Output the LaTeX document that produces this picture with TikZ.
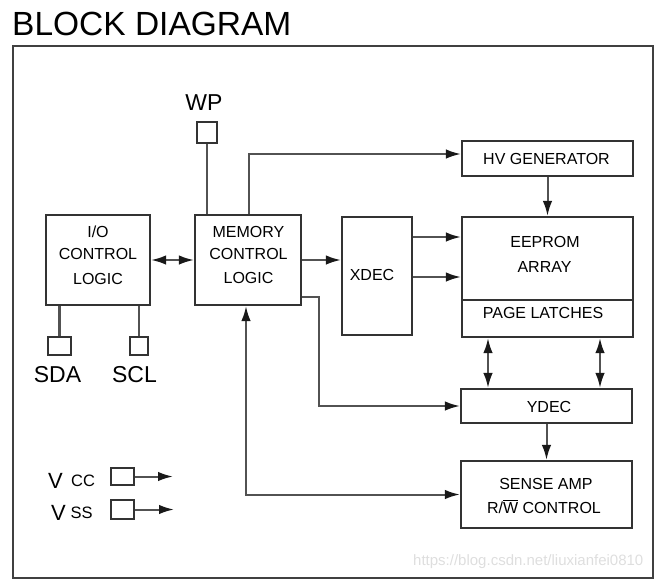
\documentclass[tikz,border=0pt]{standalone}
\usepackage{fontspec}
\setmainfont{Liberation Sans}
\usetikzlibrary{arrows.meta}
\newcommand\blkfont{\fontsize{16}{19}\selectfont}
\newcommand\pinfont{\fontsize{23}{26}\selectfont}
\begin{document}
\begin{tikzpicture}[x=1pt,y=-1pt,
  blk/.style={draw=black!80,line width=2.2pt,rectangle,inner sep=0pt},
  lbl/.style={anchor=base,inner sep=0pt,font=\blkfont},
  conn/.style={draw=black!68,line width=2pt},
  tip/.tip={Latex[length=15pt,width=9.5pt,color=black!90,fill=black!90]},
  arr/.style={conn,-tip},
  barr/.style={conn,tip-tip},
  frame/.style={draw=black!75,line width=2pt}]
\useasboundingbox (0,0) rectangle (666,582);
\draw[frame] (13,46) rectangle (653,578);
\node[anchor=base west,inner sep=0pt,font=\fontsize{33.5}{38}\selectfont] (title) at (12,35) {BLOCK DIAGRAM};

% blocks
\node[blk,minimum width=104pt,minimum height=90pt] (io) at (98,260) {};
\node[blk,minimum width=106pt,minimum height=90pt] (mem) at (248,260) {};
\node[blk,minimum width=70pt,minimum height=118pt] (xdec) at (377,276) {};
\node[blk,minimum width=171pt,minimum height=35pt] (hv) at (547.5,158.5) {};
\node[blk,minimum width=171pt,minimum height=120pt] (ee) at (547.5,277) {};
\node[blk,minimum width=171pt,minimum height=34pt] (ydec) at (546.5,406) {};
\node[blk,minimum width=171pt,minimum height=67pt] (sense) at (546.5,494.5) {};
\draw[blk] (ee.west |- 0,300) -- (ee.east |- 0,300);

% pins
\node[blk,minimum width=20pt,minimum height=21pt] (wp) at (207,132.5) {};
\node[blk,minimum width=23pt,minimum height=18pt] (sda) at (59.5,346) {};
\node[blk,minimum width=18pt,minimum height=18pt] (scl) at (139,346) {};
\node[blk,minimum width=23pt,minimum height=17pt] (vcc) at (122.5,476.5) {};
\node[blk,minimum width=23pt,minimum height=19pt] (vss) at (122.5,509.5) {};

% texts
\node[anchor=base,inner sep=0pt,font=\pinfont] (wpt) at (204,110) {WP};
\node[anchor=base,inner sep=0pt,font=\pinfont] (sdat) at (57.5,382) {SDA};
\node[anchor=base,inner sep=0pt,font=\pinfont] (sclt) at (134.5,382) {SCL};
\node[anchor=base,inner sep=0pt,font=\fontsize{22}{24}\selectfont] (vccv) at (55.5,488) {V};
\node[anchor=base west,inner sep=0pt,font=\fontsize{16.5}{18}\selectfont] (vccs) at (71,486) {CC};
\node[anchor=base,inner sep=0pt,font=\fontsize{22}{24}\selectfont] (vssv) at (58.5,520) {V};
\node[anchor=base west,inner sep=0pt,font=\fontsize{16.5}{18}\selectfont] (vsss) at (70.5,518) {SS};

\node[lbl] (io1) at (98,237.5) {I/O};
\node[lbl] (io2) at (98,259.5) {CONTROL};
\node[lbl] (io3) at (98,284.5) {LOGIC};
\node[lbl] (m1) at (248.5,237.5) {MEMORY};
\node[lbl] (m2) at (248.5,259.5) {CONTROL};
\node[lbl] (m3) at (248.5,283.5) {LOGIC};
\node[lbl] (xt) at (372,280.5) {XDEC};
\node[lbl] (hvt) at (546.5,164) {HV GENERATOR};
\node[lbl] (e1t) at (545,247) {EEPROM};
\node[lbl] (e2t) at (544.5,272) {ARRAY};
\node[lbl] (plt) at (543,318) {PAGE LATCHES};
\node[lbl] (yt) at (549,412) {YDEC};
\node[lbl] (s1t) at (546,489) {SENSE AMP};
\node[lbl] (s2t) at (544,513) {R/$\overline{\mbox{W}}$ CONTROL};
\node[anchor=base west,inner sep=0pt,font=\fontsize{15}{17}\selectfont,text=black!13] (wm) at (413,565) {https://blog.csdn.net/liuxianfei0810};

% connectors
\draw[barr] (io.east) -- (mem.west);
\draw[conn] (wp.south) -- (wp.south |- mem.north);
\draw[arr] ([xshift=1pt]mem.north) |- ([yshift=4.5pt]hv.west);
\draw[arr] (mem.east) -- (mem.east -| xdec.west);
\coordinate (ein) at ([yshift=40pt]ee.west);
\draw[arr] (xdec.east |- ein) -- (ein);
\draw[arr] (xdec.east |- ee.west) -- (ee.west);
\draw[arr] (hv.south) -- (hv.south |- ee.north);
\coordinate (l1) at ([xshift=-59.5pt]ee.south);
\coordinate (l2) at ([xshift=52.5pt]ee.south);
\draw[barr] (l1) -- (l1 |- ydec.north);
\draw[barr] (l2) -- (l2 |- ydec.north);
\draw[arr] ([yshift=-37pt]mem.east) -| ([xshift=-141pt]ydec.west |- 0,380) |- (ydec.west);
\draw[arr] (ydec.south) -- (ydec.south |- sense.north);
\draw[barr] ([xshift=-2pt]mem.south) |- (sense.west);
\draw[conn,line width=3pt] (sda.north |- io.south) -- (sda.north);
\draw[conn] (scl.north |- io.south) -- (scl.north);
\coordinate (vcce) at (173,476.5);
\coordinate (vsse) at (174,509.5);
\draw[arr] (vcc.east) -- (vcce);
\draw[arr] (vss.east) -- (vsse);
\end{tikzpicture}
\end{document}
